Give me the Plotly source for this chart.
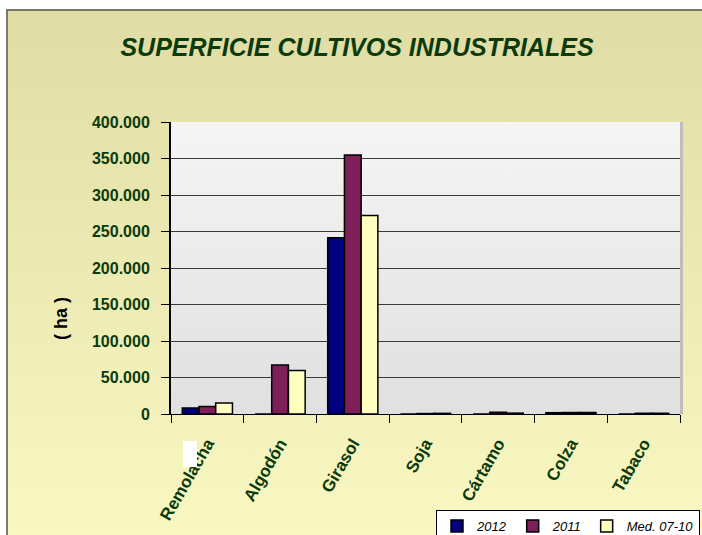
import base64
import plotly.graph_objects as go

categories = ["Remolacha", "Algodón", "Girasol", "Soja", "Cártamo", "Colza", "Tabaco"]
series_names = ["2012", "2011", "Med. 07-10"]
values_2012 = [8200, 0, 241300, 0, 0, 1800, 0]
values_2011 = [10400, 67000, 354800, 600, 2500, 2000, 1000]
values_med = [15000, 59700, 271800, 900, 1200, 2200, 1000]
series_colors = ["#000080", "#7F1F5A", "#FFFFC0"]
y_ticks = [0, 50000, 100000, 150000, 200000, 250000, 300000, 350000, 400000]
y_title = "( ha )"

GREEN = "#0B3B0B"
FONT = "Arial, Liberation Sans, sans-serif"

W, H = 702, 535
L, R, T, B = 171, 680, 122, 414  # plot area in pixels


def px_x(p):
    return (p - L) / (R - L)


def px_y(p):
    return (B - p) / (B - T)


def grad_svg(c_top, c_bot):
    svg = (
        '<svg xmlns="http://www.w3.org/2000/svg" width="100" height="100" '
        'viewBox="0 0 100 100" preserveAspectRatio="none">'
        '<defs><linearGradient id="g" x1="0" y1="0" x2="0" y2="1">'
        f'<stop offset="0" stop-color="{c_top}"/><stop offset="1" stop-color="{c_bot}"/>'
        '</linearGradient></defs><rect width="100" height="100" fill="url(#g)"/></svg>'
    )
    return "data:image/svg+xml;base64," + base64.b64encode(svg.encode()).decode()


fig = go.Figure()
for name, vals, col in zip(series_names, [values_2012, values_2011, values_med], series_colors):
    fig.add_trace(go.Bar(
        x=categories, y=vals, name=name,
        marker=dict(color=col, line=dict(color="#000000", width=1.5)),
    ))

fig.update_layout(
    width=W, height=H,
    margin=dict(l=L, r=W - R, t=T, b=H - B, pad=0, autoexpand=False),
    paper_bgcolor="white",
    plot_bgcolor="#EBEBEB",
    separators=",.",
    barmode="group",
    bargap=0.31,
    bargroupgap=0,
    font=dict(family=FONT, color=GREEN),
    title=dict(
        text="SUPERFICIE CULTIVOS INDUSTRIALES",
        x=357 / W, xanchor="center", xref="container",
        y=1 - 47 / H, yanchor="middle", yref="container",
        font=dict(family=FONT, size=25, color=GREEN, weight="bold", style="italic"),
    ),
    xaxis=dict(
        type="category",
        automargin=False,
        tickangle=-60,
        tickfont=dict(family=FONT, size=17, color=GREEN, weight="bold"),
        ticks="outside", ticklen=8, tickcolor="#000000", tickson="boundaries",
        ticklabelstandoff=12,
        showline=True, linecolor="#000000", linewidth=1,
        showgrid=False,
    ),
    yaxis=dict(
        range=[0, 400000],
        automargin=False,
        tickvals=y_ticks,
        tickformat=",d",
        tickfont=dict(family=FONT, size=16, color=GREEN, weight="bold"),
        ticks="outside", ticklen=8, tickcolor="#000000",
        ticklabelstandoff=8,
        showline=True, linecolor="#000000", linewidth=2,
        showgrid=True, gridcolor="#3A3A3A", gridwidth=1,
        zeroline=False,
    ),
    legend=dict(
        orientation="h",
        x=px_x(436), y=px_y(510), xanchor="left", yanchor="top",
        bgcolor="white", bordercolor="#000000", borderwidth=1,
        font=dict(family=FONT, size=13, color="#000000", style="italic"),
        itemwidth=30, traceorder="normal",
    ),
    annotations=[
        dict(text=y_title, xref="paper", yref="paper", x=px_x(61), y=px_y(319),
             xanchor="center", yanchor="middle", textangle=-90, showarrow=False,
             font=dict(family=FONT, size=18, color="#000000", weight="bold")),
    ],
    images=[
        dict(source=grad_svg("#DFDCA5", "#FBF9C3"), xref="paper", yref="paper",
             x=px_x(7), y=px_y(10), sizex=(W + 20 - 7) / (R - L), sizey=(H + 20 - 10) / (B - T),
             sizing="stretch", xanchor="left", yanchor="top", layer="below"),
        dict(source=grad_svg("#F5F5F5", "#E0E0E0"), xref="paper", yref="paper",
             x=0, y=1, sizex=1, sizey=1,
             sizing="stretch", xanchor="left", yanchor="top", layer="below"),
    ],
    shapes=[
        dict(type="rect", xref="paper", yref="paper",
             x0=px_x(7), x1=px_x(W + 30), y0=px_y(H + 30), y1=px_y(10),
             line=dict(color="#7A7A6A", width=2), fillcolor="rgba(0,0,0,0)", layer="above"),
        dict(type="line", xref="paper", yref="paper", x0=1.003, x1=1.003, y0=0, y1=1,
             line=dict(color="#BDBDBD", width=3), layer="above"),
        dict(type="rect", xref="paper", yref="paper",
             x0=px_x(183), x1=px_x(197), y0=px_y(467), y1=px_y(441),
             line=dict(width=0), fillcolor="white", layer="above"),
    ],
)

fig.write_html(
    "out.html",
    config={"displayModeBar": False},
    post_script="document.body.style.margin='0';document.body.style.overflow='hidden';",
)
